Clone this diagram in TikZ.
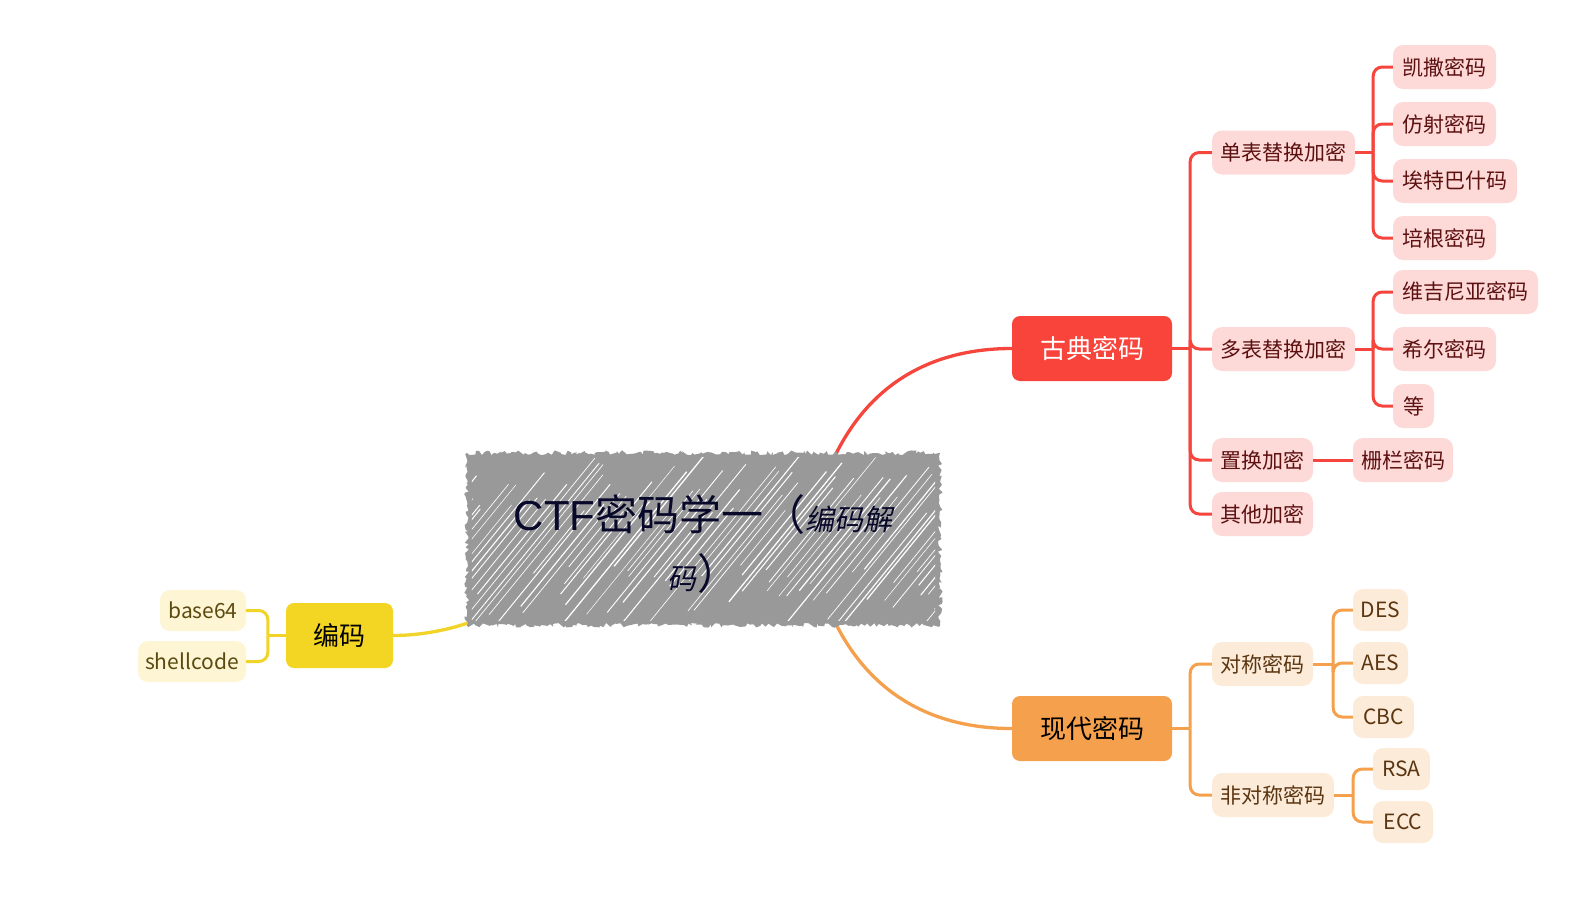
\documentclass[tikz,border=0pt]{standalone}
\usepackage{fontspec}
\setmainfont{Noto Sans CJK SC}
\newfontfamily\cjkit{Noto Sans CJK SC}[FakeSlant=0.2]
\newfontfamily\latf{Liberation Sans}
\usetikzlibrary{decorations.pathmorphing,calc}
\definecolor{redmain}{HTML}{F9443B}
\definecolor{redline}{HTML}{F5453D}
\definecolor{redsubfill}{HTML}{FDDAD8}
\definecolor{redtext}{HTML}{5C1010}
\definecolor{orgmain}{HTML}{F5A04C}
\definecolor{orgline}{HTML}{F5A04C}
\definecolor{orgsubfill}{HTML}{FDEBDA}
\definecolor{orgtext}{HTML}{5A3510}
\definecolor{ylwmain}{HTML}{F3D523}
\definecolor{ylwline}{HTML}{F2D327}
\definecolor{ylwsubfill}{HTML}{FDF5D3}
\definecolor{ylwtext}{HTML}{5A4A10}
\definecolor{hatchgray}{HTML}{999999}
\definecolor{navy}{HTML}{08082A}
\tikzset{
  mainbox/.style={rounded corners=8pt, minimum height=65pt, inner sep=0pt, font=\fontsize{26}{30}\selectfont},
  subbox/.style={rounded corners=10pt, minimum height=44pt, inner sep=0pt, font=\fontsize{21}{24}\selectfont},
  redsub/.style={subbox, fill=redsubfill, text=redtext},
  orgsub/.style={subbox, fill=orgsubfill, text=orgtext, minimum height=42pt},
  ylwsub/.style={subbox, fill=ylwsubfill, text=ylwtext, minimum height=41pt},
  redcon/.style={draw=redline, line width=3pt},
  orgcon/.style={draw=orgline, line width=3pt},
  ylwcon/.style={draw=ylwline, line width=3pt},
  rc/.style={rounded corners=9pt},
  centertext/.style={text=navy, inner sep=0pt, font=\fontsize{42}{50}\selectfont},
}
\begin{document}
\begin{tikzpicture}[x=1pt,y=-1pt]
\useasboundingbox (0,0) rectangle (1572,916);
% central area
\node[minimum width=473pt, minimum height=172pt, inner sep=0pt] (c) at (703.5,539) {};
% main nodes
\node[mainbox, fill=redmain, text=white, minimum width=160pt] (gd) at (1092,348.5) {古典密码};
\node[mainbox, fill=orgmain, text=black, minimum width=160pt] (xd) at (1092,728.5) {现代密码};
\node[mainbox, fill=ylwmain, text=black, minimum width=107pt] (bm) at (339.5,635.5) {编码};
% main connectors
\draw[redcon, line width=3.3pt] ($(c.north)+(132,2)$) .. controls (870,385) and (930,348.5) .. (gd.west);
\draw[orgcon, line width=3.3pt] ($(c.south)+(132,-2)$) .. controls (870,692) and (930,728.5) .. (xd.west);
\draw[ylwcon, line width=3.3pt] ($(c.south west)+(9,-5)$) .. controls (450,630) and (420,635.5) .. (bm.east);
% rough hatched fill
\fill[hatchgray, decorate, decoration={random steps, segment length=2.5pt, amplitude=2.4pt}] (c.south west) rectangle (c.north east);
\begin{scope}
\clip ($(c.south west)+(5,-5)$) rectangle ($(c.north east)+(-5,5)$);
\pgfmathsetseed{11}
\foreach \i in {0,...,80}{
  \pgfmathsetmacro{\xa}{315+\i*7.8+rnd*6}
  \pgfmathsetmacro{\lw}{0.5+rnd*0.8}
  \pgfmathsetmacro{\fa}{rnd*0.35}
  \pgfmathsetmacro{\fb}{0.65+rnd*0.35}
  \draw[white, line width=\lw pt] ({\xa+140*\fa},{625-172*\fa}) -- ({\xa+140*\fb},{625-172*\fb});
}
\end{scope}
\node[centertext, anchor=base] (ct1) at (703,530)
  {{\latf CTF}密码学一（{\cjkit\fontsize{29}{32}\selectfont 编码解}};
\node[centertext, anchor=base] (ct2) at (703,589)
  {{\cjkit\fontsize{29}{32}\selectfont 码}\hspace{1pt}）};
% red subtree
\node[redsub, minimum width=143pt] (dan) at (1283.5,152.5) {单表替换加密};
\node[redsub, minimum width=143pt] (duo) at (1283.5,349) {多表替换加密};
\node[redsub, minimum width=101pt] (zh) at (1262.5,460) {置换加密};
\node[redsub, minimum width=101pt] (qt) at (1262.5,514) {其他加密};
\node[redsub, minimum width=103pt] (ks) at (1444.5,67) {凯撒密码};
\node[redsub, minimum width=103pt] (fs) at (1444.5,124) {仿射密码};
\node[redsub, minimum width=124pt] (ai) at (1455,181) {埃特巴什码};
\node[redsub, minimum width=103pt] (pg) at (1444.5,238) {培根密码};
\node[redsub, minimum width=145pt] (wj) at (1465.5,292) {维吉尼亚密码};
\node[redsub, minimum width=103pt] (xe) at (1444.5,349) {希尔密码};
\node[redsub, minimum width=41pt] (deng) at (1413.5,406) {等};
\node[redsub, minimum width=100pt] (zl) at (1403,460) {栅栏密码};
\coordinate (rj) at ($(gd.east)+(18,0)$);
\draw[redcon] (gd.east) -- (rj);
\foreach \n in {dan,duo,zh,qt}{\draw[redcon, rc] (rj) |- (\n.west);}
\coordinate (dj) at ($(dan.east)+(18,0)$);
\draw[redcon] (dan.east) -- (dj);
\foreach \n in {ks,fs,ai,pg}{\draw[redcon, rc] (dj) |- (\n.west);}
\coordinate (mj) at ($(duo.east)+(18,0)$);
\draw[redcon] (duo.east) -- (mj);
\foreach \n in {wj,xe,deng}{\draw[redcon, rc] (mj) |- (\n.west);}
\draw[redcon] (zh.east) -- (zl.west);
% orange subtree
\node[orgsub, minimum width=101pt, minimum height=44pt] (dc) at (1262.5,664) {对称密码};
\node[orgsub, minimum width=122pt, minimum height=44pt] (fdc) at (1273,795) {非对称密码};
\node[orgsub, minimum width=55pt] (des) at (1380.5,610) {DES};
\node[orgsub, minimum width=55pt] (aes) at (1380.5,663) {AES};
\node[orgsub, minimum width=61pt] (cbc) at (1383.5,717) {CBC};
\node[orgsub, minimum width=57pt] (rsa) at (1401.5,769) {RSA};
\node[orgsub, minimum width=60pt] (ecc) at (1403,822) {ECC};
\coordinate (oj) at ($(xd.east)+(18,0)$);
\draw[orgcon] (xd.east) -- (oj);
\foreach \n in {dc,fdc}{\draw[orgcon, rc] (oj) |- (\n.west);}
\coordinate (sj) at ($(dc.east)+(20,0)$);
\draw[orgcon] (dc.east) -- (sj);
\foreach \n in {des,aes,cbc}{\draw[orgcon, rc] (sj) |- (\n.west);}
\coordinate (aj) at ($(fdc.east)+(19,0)$);
\draw[orgcon] (fdc.east) -- (aj);
\foreach \n in {rsa,ecc}{\draw[orgcon, rc] (aj) |- (\n.west);}
% yellow subtree
\node[ylwsub, minimum width=86pt] (b64) at (203,610.5) {base64};
\node[ylwsub, minimum width=108pt] (shc) at (192,661.5) {shellcode};
\coordinate (yj) at ($(bm.west)+(-18,0)$);
\draw[ylwcon] (bm.west) -- (yj);
\foreach \n in {b64,shc}{\draw[ylwcon, rc] (yj) |- (\n.east);}
\end{tikzpicture}
\end{document}
